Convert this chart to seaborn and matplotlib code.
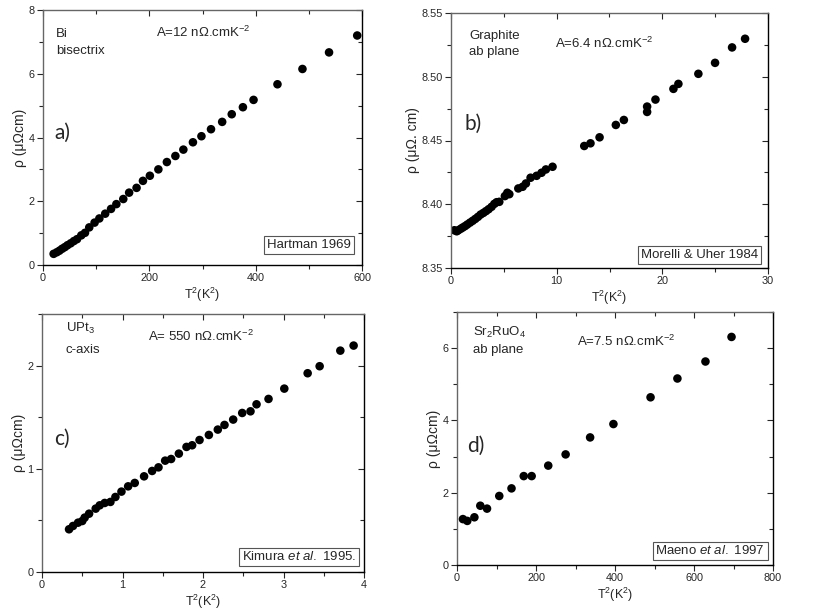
import numpy as np
import pandas as pd
import matplotlib
matplotlib.use('Agg')
import matplotlib.pyplot as plt
import seaborn as sns
from matplotlib.ticker import MultipleLocator, FormatStrFormatter

# a) Bi bisectrix, Hartman 1969
bi_t2 = [20, 26, 31, 36, 41, 46, 52, 58, 64, 72, 79, 87, 97, 106, 117, 128, 138, 151,
         162, 176, 188, 201, 217, 233, 249, 264, 282, 298, 316, 337, 355, 376, 396,
         441, 488, 538, 591]
bi_rho = [0.35, 0.40, 0.45, 0.51, 0.56, 0.62, 0.68, 0.75, 0.81, 0.93, 1.01, 1.18, 1.33,
          1.46, 1.61, 1.76, 1.91, 2.07, 2.27, 2.42, 2.64, 2.80, 3.00, 3.23, 3.42, 3.62,
          3.85, 4.04, 4.26, 4.49, 4.73, 4.95, 5.18, 5.67, 6.15, 6.67, 7.20]

# b) graphite ab plane, Morelli & Uher 1984
gr_t2 = [0.32, 0.54, 0.69, 0.91, 1.10, 1.32, 1.54, 1.80, 2.05, 2.30, 2.55, 2.80, 3.06,
         3.31, 3.56, 3.84, 4.10, 4.32, 4.57, 5.10, 5.33, 5.52, 6.37, 6.78, 7.09, 7.53,
         8.10, 8.57, 8.98, 9.61, 12.61, 13.20, 14.06, 15.60, 16.36, 18.56, 18.56, 19.35,
         21.05, 21.52, 23.41, 24.99, 26.60, 27.83]
gr_rho = [8.3796, 8.3788, 8.3796, 8.3807, 8.3817, 8.3828, 8.3841, 8.3856, 8.3870, 8.3885,
          8.3901, 8.3919, 8.3932, 8.3946, 8.3961, 8.3980, 8.4003, 8.4016, 8.4019, 8.4064,
          8.4090, 8.4079, 8.4124, 8.4137, 8.4163, 8.4208, 8.4223, 8.4247, 8.4273, 8.4294,
          8.4457, 8.4478, 8.4525, 8.4622, 8.4661, 8.4724, 8.4766, 8.4821, 8.4905, 8.4944,
          8.5023, 8.5109, 8.5230, 8.5298]

# c) UPt3 c-axis, Kimura et al. 1995
up_t2 = [0.336, 0.385, 0.448, 0.50, 0.53, 0.585, 0.667, 0.717, 0.779, 0.85, 0.912, 0.987,
         1.07, 1.152, 1.268, 1.368, 1.447, 1.53, 1.604, 1.70, 1.795, 1.865, 1.957, 2.073,
         2.184, 2.267, 2.375, 2.487, 2.59, 2.665, 2.814, 3.01, 3.30, 3.449, 3.706, 3.871]
up_rho = [0.414, 0.446, 0.478, 0.494, 0.527, 0.565, 0.614, 0.646, 0.669, 0.679, 0.727,
          0.779, 0.830, 0.863, 0.927, 0.979, 1.014, 1.079, 1.095, 1.147, 1.212, 1.228,
          1.279, 1.328, 1.380, 1.425, 1.477, 1.541, 1.557, 1.625, 1.677, 1.777, 1.926,
          1.994, 2.145, 2.194]

# d) Sr2RuO4 ab plane, Maeno et al. 1997
sr_t2 = [15, 26, 44, 59, 76, 107, 138, 169, 189, 231, 275, 337, 396, 490, 558, 629, 695]
sr_rho = [1.27, 1.22, 1.32, 1.64, 1.56, 1.91, 2.12, 2.46, 2.46, 2.75, 3.06, 3.53, 3.90,
          4.64, 5.16, 5.63, 6.31]

sns.set_style('ticks')
plt.rcParams['font.family'] = ['Liberation Sans', 'DejaVu Sans']
plt.rcParams['mathtext.fontset'] = 'custom'
plt.rcParams['mathtext.rm'] = 'Liberation Sans'
plt.rcParams['mathtext.it'] = 'Liberation Sans:italic'
plt.rcParams['mathtext.bf'] = 'Liberation Sans:bold'

W, H = 817, 613
fig = plt.figure(figsize=(W / 100, H / 100), dpi=100)


def px(x, y):
    return x / W, 1 - y / H


def panel(rect, x, y, xlim, ylim, xmaj, xmin, ymaj, ymin, ylabel, yfmt=None):
    ax = fig.add_axes(rect)
    sns.scatterplot(x=x, y=y, ax=ax, color='black', s=38, edgecolor='none', linewidth=0)
    ax.set_xlim(*xlim)
    ax.set_ylim(*ylim)
    ax.xaxis.set_major_locator(MultipleLocator(xmaj))
    ax.xaxis.set_minor_locator(MultipleLocator(xmin))
    ax.yaxis.set_major_locator(MultipleLocator(ymaj))
    ax.yaxis.set_minor_locator(MultipleLocator(ymin))
    if yfmt:
        ax.yaxis.set_major_formatter(FormatStrFormatter(yfmt))
    ax.tick_params(which='both', direction='out', labelsize=7.8, pad=2, width=0.8)
    ax.tick_params(which='major', length=4)
    ax.tick_params(which='minor', length=3)
    ax.set_xlabel(r'T$^2$(K$^2$)', fontsize=9, labelpad=2)
    ax.set_ylabel(ylabel, fontsize=10, labelpad=1)
    for side in ['top', 'right', 'left', 'bottom']:
        ax.spines[side].set_visible(True)
        ax.spines[side].set_linewidth(1.0)
    ax.spines['left'].set_color('#666666')
    ax.spines['top'].set_color('#666666')
    ax.spines['bottom'].set_color('black')
    ax.spines['right'].set_color('black')
    sx = ax.secondary_xaxis('top')
    sx.xaxis.set_major_locator(MultipleLocator(xmaj))
    sx.xaxis.set_minor_locator(MultipleLocator(xmin))
    sx.tick_params(which='both', direction='in', labeltop=False, width=0.8)
    sx.tick_params(which='major', length=4)
    sx.tick_params(which='minor', length=3)
    sx.spines['top'].set_visible(False)
    sy = ax.secondary_yaxis('right')
    sy.yaxis.set_major_locator(MultipleLocator(ymaj))
    sy.yaxis.set_minor_locator(MultipleLocator(ymin))
    sy.tick_params(which='both', direction='in', labelright=False, width=0.8)
    sy.tick_params(which='major', length=4)
    sy.tick_params(which='minor', length=3)
    sy.spines['right'].set_visible(False)
    return ax


panel([43 / W, 1 - 265 / H, 319 / W, 255 / H], bi_t2, bi_rho, (0, 600), (0, 8),
      200, 100, 2, 1, 'ρ (μΩcm)')
panel([451 / W, 1 - 268 / H, 317 / W, 255 / H], gr_t2, gr_rho, (0, 30), (8.35, 8.55),
      10, 5, 0.05, 0.025, 'ρ (μΩ. cm)', '%.2f')
panel([42 / W, 1 - 572 / H, 322 / W, 258 / H], up_t2, up_rho, (0, 4), (0, 2.5),
      1, 0.5, 1, 0.5, 'ρ (μΩcm)')
panel([457 / W, 1 - 565 / H, 316 / W, 253 / H], sr_t2, sr_rho, (0, 800), (0, 7),
      200, 100, 2, 1, 'ρ (μΩcm)')

fs = 9.5
# sample names
for x, y, s in [(56, 37, 'Bi'), (56, 54, 'bisectrix'),
                (469, 39, 'Graphite'), (469, 55, 'ab plane'),
                (66, 332, r'UPt$_3$'), (66, 353, 'c-axis'),
                (473, 336, r'Sr$_2$RuO$_4$'), (473, 353, 'ab plane')]:
    fig.text(*px(x, y), s, fontsize=fs, ha='left', va='baseline')

# A coefficients
for x, y, s in [(156, 37, r'A=12 nΩ.cmK$^{-2}$'), (555, 48, r'A=6.4 nΩ.cmK$^{-2}$'),
                (148, 341, r'A= 550 nΩ.cmK$^{-2}$'), (577, 346, r'A=7.5 nΩ.cmK$^{-2}$')]:
    fig.text(*px(x, y), s, fontsize=fs, ha='left', va='baseline')

# panel letters
for x, y, s in [(54, 133, 'a)'), (464, 124, 'b)'), (54, 439, 'c)'), (467, 446, 'd)')]:
    fig.text(*px(x, y), s, fontsize=15, family=['Lato', 'DejaVu Sans'], ha='left', va='center')

# references in boxes
for x, y, s in [(351, 245, 'Hartman 1969'), (758, 255, 'Morelli & Uher 1984'),
                (356, 557, r'Kimura $\mathit{et\ al.}$ 1995.'),
                (765, 551, r'Maeno $\mathit{et\ al.}$ 1997')]:
    fig.text(*px(x, y), s, fontsize=fs, ha='right', va='center',
             bbox=dict(boxstyle='square,pad=0.2', facecolor='white', edgecolor='#555555',
                       linewidth=0.8))

fig.savefig('out.png', dpi=100)
